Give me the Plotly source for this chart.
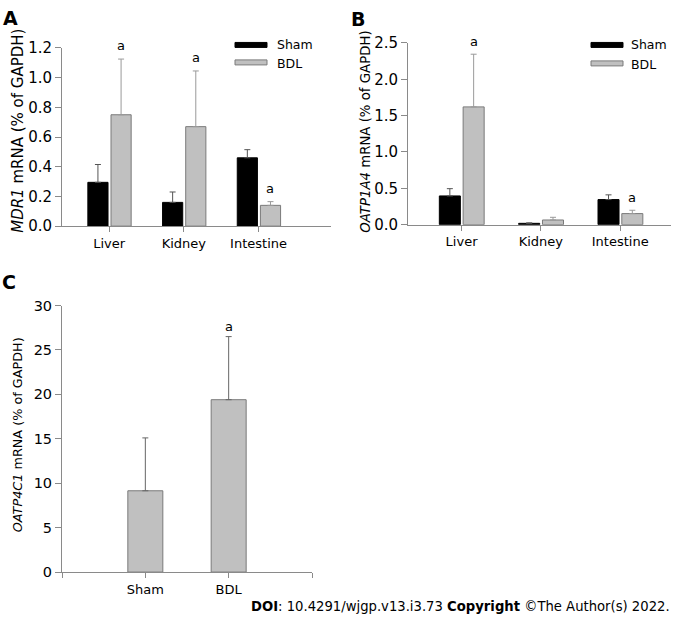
import plotly.graph_objects as go

W, H = 681, 622

# ---------------- data ----------------
tissues = ["Liver", "Kidney", "Intestine"]
tissue_pos = [0, 1, 2]

mdr1_sham = [0.295, 0.16, 0.46]
mdr1_sham_err = [0.12, 0.07, 0.055]
mdr1_bdl = [0.75, 0.67, 0.14]
mdr1_bdl_err = [0.375, 0.375, 0.025]
mdr1_sig = [True, True, True]

oatp1a4_sham = [0.395, 0.018, 0.345]
oatp1a4_sham_err = [0.10, 0.006, 0.065]
oatp1a4_bdl = [1.62, 0.064, 0.152]
oatp1a4_bdl_err = [0.725, 0.037, 0.046]
oatp1a4_sig = [True, False, True]

groups = ["Sham", "BDL"]
group_pos = [0, 1]
oatp4c1 = [9.15, 19.4]
oatp4c1_err = [5.95, 7.1]
oatp4c1_sig = [False, True]

yticks_a = [0.0, 0.2, 0.4, 0.6, 0.8, 1.0, 1.2]
yticks_b = [0.0, 0.5, 1.0, 1.5, 2.0, 2.5]
yticks_c = [0, 5, 10, 15, 20, 25, 30]

# ---------------- style ----------------
FONT = "DejaVu Sans, Verdana, sans-serif"
BLACK = "#000000"
GRAY = "#c0c0c0"
GRAY_LINE = "#7a7a7a"
AXIS = "#8a8a8a"

# vertical compensation for the photographed page (observed offset / scale)
Y_OFF, Y_SCALE = 8.0, 605.0 / 622.0


def fx(p):
    return p / W


def fy(p):
    return 1 - ((p - Y_OFF) / Y_SCALE) / H


fig = go.Figure()


def add_pair(xa, ya, sham, sham_err, bdl, bdl_err, width, sham_off, bdl_off):
    fig.add_trace(go.Bar(
        x=tissue_pos, y=sham, width=width, offset=sham_off,
        marker=dict(color=BLACK, line=dict(color=BLACK, width=1)),
        error_y=dict(type="data", symmetric=False, array=sham_err,
                     arrayminus=[0] * len(sham), color="#555555",
                     thickness=1, width=3),
        xaxis=xa, yaxis=ya, name="Sham", showlegend=False))
    fig.add_trace(go.Bar(
        x=tissue_pos, y=bdl, width=width, offset=bdl_off,
        marker=dict(color=GRAY, line=dict(color=GRAY_LINE, width=1)),
        error_y=dict(type="data", symmetric=False, array=bdl_err,
                     arrayminus=[0] * len(bdl), color="#9a9a9a",
                     thickness=1, width=3),
        xaxis=xa, yaxis=ya, name="BDL", showlegend=False))


# Panel A
WA = 0.27
add_pair("x", "y", mdr1_sham, mdr1_sham_err, mdr1_bdl, mdr1_bdl_err, WA, -0.285, 0.025)
# Panel B
WB = 0.265
add_pair("x2", "y2", oatp1a4_sham, oatp1a4_sham_err, oatp1a4_bdl, oatp1a4_bdl_err, WB, -0.28, 0.02)
# Panel C
fig.add_trace(go.Bar(
    x=group_pos, y=oatp4c1, width=0.42,
    marker=dict(color=GRAY, line=dict(color=GRAY_LINE, width=1)),
    error_y=dict(type="data", symmetric=False, array=oatp4c1_err,
                 arrayminus=[0, 0], color="#666666", thickness=1, width=3),
    xaxis="x3", yaxis="y3", showlegend=False))

annotations = []
# significance marks
for i, s in enumerate(mdr1_sig):
    if s:
        annotations.append(dict(x=tissue_pos[i] + 0.025 + WA / 2, y=mdr1_bdl[i] + mdr1_bdl_err[i],
                                xref="x", yref="y", text="a", showarrow=False,
                                yanchor="bottom", yshift=4, font=dict(size=13, color="#000")))
for i, s in enumerate(oatp1a4_sig):
    if s:
        annotations.append(dict(x=tissue_pos[i] + 0.02 + WB / 2, y=oatp1a4_bdl[i] + oatp1a4_bdl_err[i],
                                xref="x2", yref="y2", text="a", showarrow=False,
                                yanchor="bottom", yshift=3, font=dict(size=13, color="#000")))
for i, s in enumerate(oatp4c1_sig):
    if s:
        annotations.append(dict(x=group_pos[i], y=oatp4c1[i] + oatp4c1_err[i],
                                xref="x3", yref="y3", text="a", showarrow=False,
                                yanchor="bottom", yshift=1, font=dict(size=13, color="#000")))

# panel letters
for txt, x, y in [("A", 1, 17), ("B", 349, 18), ("C", 0, 281)]:
    annotations.append(dict(x=fx(x), y=fy(y), xref="paper", yref="paper", text="<b>%s</b>" % txt,
                            showarrow=False, xanchor="left", yanchor="middle",
                            font=dict(size=19, color="#000")))

# y-axis titles
for txt, x, y, fs in [("<i>MDR1</i> mRNA (% of GAPDH)", 18, 130, 15),
                      ("<i>OATP1A4</i> mRNA (% of GAPDH)", 366, 131, 13.3),
                      ("<i>OATP4C1</i> mRNA (% of GAPDH)", 17, 435, 12.8)]:
    annotations.append(dict(x=fx(x), y=fy(y), xref="paper", yref="paper", text=txt,
                            textangle=-90, showarrow=False, xanchor="center", yanchor="middle",
                            font=dict(size=fs, color="#000")))

# legends (drawn keys)
shapes = []
for (lx, ly_s, ly_b, tx) in [(235, 44, 61.5, 275), (591, 44, 62.5, 629)]:
    shapes.append(dict(type="rect", xref="paper", yref="paper",
                       x0=fx(lx), x1=fx(lx + 32), y0=fy(ly_s - 2.5), y1=fy(ly_s + 2.5),
                       fillcolor=BLACK, line=dict(color=BLACK, width=1)))
    shapes.append(dict(type="rect", xref="paper", yref="paper",
                       x0=fx(lx), x1=fx(lx + 32), y0=fy(ly_b - 2.5), y1=fy(ly_b + 2.5),
                       fillcolor=GRAY, line=dict(color=GRAY_LINE, width=1)))
    annotations.append(dict(x=fx(tx), y=fy(ly_s), xref="paper", yref="paper", text=groups[0],
                            showarrow=False, xanchor="left", yanchor="middle",
                            font=dict(size=12.5, color="#000")))
    annotations.append(dict(x=fx(tx), y=fy(ly_b + 1), xref="paper", yref="paper", text=groups[1],
                            showarrow=False, xanchor="left", yanchor="middle",
                            font=dict(size=12.5, color="#000")))

# DOI footer
annotations.append(dict(x=fx(672), y=fy(606), xref="paper", yref="paper",
                        text="<b>DOI</b>: 10.4291/wjgp.v13.i3.73 <b>Copyright</b> ©The Author(s) 2022.",
                        showarrow=False, xanchor="right", yanchor="middle",
                        font=dict(size=13.2, color="#000")))

xcommon = dict(showgrid=False, zeroline=False, showline=True, linecolor=AXIS, linewidth=1,
               ticks="outside", ticklen=5, tickcolor=AXIS, tickfont=dict(size=13, color="#000"))
ycommon = dict(showgrid=False, zeroline=False, showline=True, linecolor=AXIS, linewidth=1,
               ticks="outside", ticklen=6, tickcolor=AXIS, tickfont=dict(size=15, color="#000"))

fig.update_layout(
    width=W, height=H, margin=dict(l=0, r=0, t=0, b=0),
    paper_bgcolor="white", plot_bgcolor="white",
    font=dict(family=FONT, color="#000"),
    barmode="overlay", showlegend=False,
    xaxis=dict(xcommon, domain=[fx(62), fx(331)], range=[-0.631, 2.97],
               tickvals=tissue_pos, ticktext=tissues, anchor="y"),
    yaxis=dict(ycommon, domain=[fy(225.5), fy(47)], range=[0, 1.2],
               tickvals=yticks_a, ticktext=["%.1f" % v for v in yticks_a], anchor="x"),
    xaxis2=dict(xcommon, domain=[fx(408), fx(671)], range=[-0.675, 2.64],
                tickvals=tissue_pos, ticktext=tissues, anchor="y2"),
    yaxis2=dict(ycommon, domain=[fy(224), fy(42)], range=[0, 2.5],
                tickvals=yticks_b, ticktext=["%.1f" % v for v in yticks_b], anchor="x2"),
    xaxis3=dict(xcommon, domain=[fx(62), fx(312)], range=[-1, 2],
                tickvals=[-1] + group_pos + [2], ticktext=[""] + groups + [""], anchor="y3"),
    yaxis3=dict(ycommon, domain=[fy(572), fy(305)], range=[0, 30],
                tickvals=yticks_c, ticktext=[str(v) for v in yticks_c], anchor="x3",
                tickfont=dict(size=14.5, color="#000")),
    annotations=annotations, shapes=shapes,
)

post = ("document.documentElement.style.margin='0';document.body.style.margin='0';"
        "document.body.style.padding='0';document.documentElement.style.overflow='hidden';"
        "document.body.style.overflow='hidden';"
        "var d=document.getElementById('{plot_id}');d.style.position='fixed';"
        "d.style.left='0px';d.style.top='0px';")

fig.write_html("out.html", config={"displayModeBar": False}, post_script=post)
